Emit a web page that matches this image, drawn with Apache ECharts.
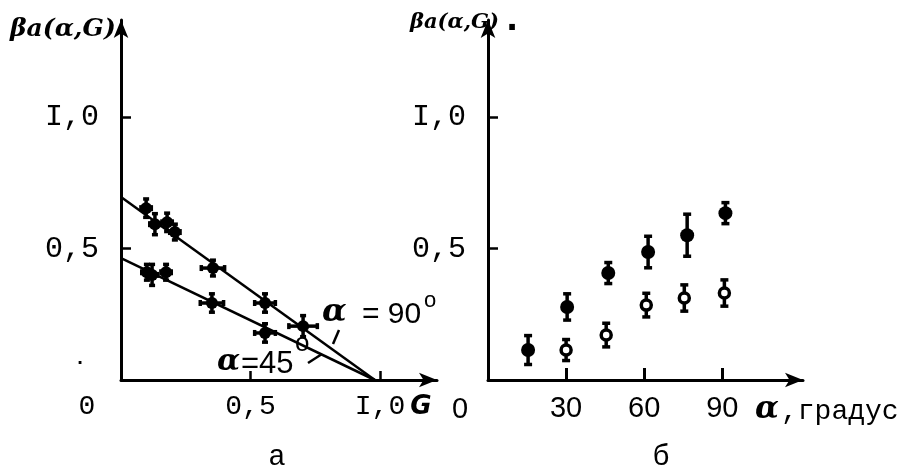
<!DOCTYPE html>
<html>
<head>
<meta charset="utf-8">
<script src="https://cdn.jsdelivr.net/npm/echarts@6/dist/echarts.min.js"></script>
<style>html,body{margin:0;padding:0;background:#fff}#c{width:912px;height:476px}</style>
</head>
<body>
<div id="c"></div>
<script>
// ---- Panel a: beta vs G ----
const G90 = [0.097, 0.131, 0.178, 0.208, 0.355, 0.556, 0.703];
const B90 = [0.654, 0.593, 0.600, 0.563, 0.426, 0.293, 0.205];
const eB90 = [0.035, 0.040, 0.035, 0.030, 0.030, 0.035, 0.040];
const eG90 = [0.020, 0.020, 0.020, 0.020, 0.045, 0.040, 0.055];
const G45 = [0.100, 0.120, 0.174, 0.351, 0.556];
const B45 = [0.410, 0.400, 0.410, 0.293, 0.179];
const eB45 = [0.030, 0.040, 0.030, 0.035, 0.035];
const eG45 = [0.020, 0.020, 0.020, 0.045, 0.040];
const fit90 = [[0, 0.696], [0.98, 0]];
const fit45 = [[0, 0.464], [0.98, 0]];
const yTicks = [0.5, 1.0];
const yTickLabels = ['0,5', 'I,0'];
const xTicksA = [0.5, 1.0];
const xTickLabelsA = ['0,5', 'I,0'];
// ---- Panel b: beta vs alpha ----
const alphaFilled = [15.4, 30.4, 46.2, 61.5, 76.5, 91.2];
const betaFilled = [0.114, 0.278, 0.407, 0.487, 0.551, 0.635];
const errFilled = [0.055, 0.050, 0.040, 0.060, 0.080, 0.040];
const alphaOpen = [30.0, 45.4, 60.8, 75.4, 90.8];
const betaOpen = [0.114, 0.171, 0.285, 0.312, 0.331];
const errOpen = [0.040, 0.045, 0.045, 0.050, 0.050];
const xTicksB = [30, 60, 90];

const chart = echarts.init(document.getElementById('c'));
const ink = '#000';
const mono = '"Liberation Mono", "DejaVu Sans Mono", monospace';
const sans = '"Liberation Sans", "DejaVu Sans", sans-serif';

function axisLineStyle() {
  return { show: true, symbol: ['none', 'arrow'], symbolSize: [11, 18], lineStyle: { color: ink, width: 3 } };
}

function crossItem(params, api) {
  const x = api.value(0), y = api.value(1), ey = api.value(2), ex = api.value(3);
  const c = api.coord([x, y]);
  const t = api.coord([x, y + ey]), b = api.coord([x, y - ey]);
  const l = api.coord([x - ex, y]), r = api.coord([x + ex, y]);
  const st = { stroke: ink, lineWidth: 3.5 };
  return { type: 'group', children: [
    { type: 'line', shape: { x1: t[0], y1: t[1], x2: b[0], y2: b[1] }, style: st },
    { type: 'line', shape: { x1: l[0], y1: l[1], x2: r[0], y2: r[1] }, style: st },
    { type: 'line', shape: { x1: t[0] - 3, y1: t[1], x2: t[0] + 3, y2: t[1] }, style: st },
    { type: 'line', shape: { x1: b[0] - 3, y1: b[1], x2: b[0] + 3, y2: b[1] }, style: st },
    { type: 'line', shape: { x1: l[0], y1: l[1] - 3, x2: l[0], y2: l[1] + 3 }, style: st },
    { type: 'line', shape: { x1: r[0], y1: r[1] - 3, x2: r[0], y2: r[1] + 3 }, style: st },
    { type: 'circle', shape: { cx: c[0], cy: c[1], r: 6 }, style: { fill: ink } }
  ]};
}

function barItem(filled) {
  return function (params, api) {
    const x = api.value(0), y = api.value(1), e = api.value(2);
    const c = api.coord([x, y]);
    const t = api.coord([x, y + e]), b = api.coord([x, y - e]);
    const st = { stroke: ink, lineWidth: 3.5 };
    return { type: 'group', children: [
      { type: 'line', shape: { x1: t[0], y1: t[1], x2: b[0], y2: b[1] }, style: st },
      { type: 'line', shape: { x1: t[0] - 4, y1: t[1], x2: t[0] + 4, y2: t[1] }, style: st },
      { type: 'line', shape: { x1: b[0] - 4, y1: b[1], x2: b[0] + 4, y2: b[1] }, style: st },
      { type: 'circle', shape: { cx: c[0], cy: c[1], r: filled ? 7 : 5 },
        style: filled ? { fill: ink } : { fill: '#fff', stroke: ink, lineWidth: 3.5 } }
    ]};
  };
}

const yAxisCommon = (gi) => ({
  type: 'value', gridIndex: gi, min: 0, max: 1.37,
  axisLine: axisLineStyle(),
  axisTick: { show: true, inside: true, length: 10, customValues: yTicks, lineStyle: { color: ink, width: 2.5 } },
  axisLabel: { customValues: yTicks, formatter: v => yTickLabels[yTicks.indexOf(v)],
    fontFamily: mono, fontSize: 30, color: ink, margin: 22 },
  splitLine: { show: false }
});

chart.setOption({
  backgroundColor: '#fff',
  animation: false,
  grid: [
    { left: 121, top: 20, width: 316, height: 360 },
    { left: 488, top: 20, width: 315, height: 360 }
  ],
  xAxis: [
    { type: 'value', gridIndex: 0, min: 0, max: 1.22,
      axisLine: axisLineStyle(),
      axisTick: { show: true, inside: true, length: 9, customValues: xTicksA, lineStyle: { color: ink, width: 2.5 } },
      axisLabel: { customValues: xTicksA, formatter: v => xTickLabelsA[xTicksA.indexOf(v)],
        fontFamily: mono, fontSize: 28, color: ink, margin: 13 },
      splitLine: { show: false } },
    { type: 'value', gridIndex: 1, min: 0, max: 121,
      axisLine: axisLineStyle(),
      axisTick: { show: true, inside: true, length: 12, customValues: xTicksB, lineStyle: { color: ink, width: 3 } },
      axisLabel: { customValues: xTicksB, fontFamily: sans, fontSize: 29, color: ink, margin: 14 },
      splitLine: { show: false } }
  ],
  yAxis: [yAxisCommon(0), yAxisCommon(1)],
  series: [
    { type: 'line', xAxisIndex: 0, yAxisIndex: 0, data: fit90, symbol: 'none', lineStyle: { color: ink, width: 2.5 } },
    { type: 'line', xAxisIndex: 0, yAxisIndex: 0, data: fit45, symbol: 'none', lineStyle: { color: ink, width: 2.5 } },
    { type: 'custom', xAxisIndex: 0, yAxisIndex: 0, renderItem: crossItem,
      data: G90.map((g, i) => [g, B90[i], eB90[i], eG90[i]]) },
    { type: 'custom', xAxisIndex: 0, yAxisIndex: 0, renderItem: crossItem,
      data: G45.map((g, i) => [g, B45[i], eB45[i], eG45[i]]) },
    { type: 'custom', xAxisIndex: 1, yAxisIndex: 1, renderItem: barItem(true),
      data: alphaFilled.map((a, i) => [a, betaFilled[i], errFilled[i]]) },
    { type: 'custom', xAxisIndex: 1, yAxisIndex: 1, renderItem: barItem(false),
      data: alphaOpen.map((a, i) => [a, betaOpen[i], errOpen[i]]) }
  ],
  graphic: [
    { type: 'text', x: 10, y: 17, style: { text: 'βa(α,G)', font: 'italic bold 25px "DejaVu Serif"', fill: ink } },
    { type: 'text', x: 410, y: 12, style: { text: 'βa(α,G)', font: 'italic bold 21px "DejaVu Serif"', fill: ink } },
    { type: 'text', x: 506, y: 6, style: { text: '.', font: 'bold 32px "DejaVu Sans"', fill: ink } },
    { type: 'text', x: 87, y: 407, style: { text: '0', font: '28px ' + mono, fill: ink, align: 'center', verticalAlign: 'middle' } },
    { type: 'text', x: 421, y: 407, style: { text: 'G', font: 'bold italic 26px "DejaVu Sans"', fill: ink, align: 'center', verticalAlign: 'middle' } },
    { type: 'text', x: 460, y: 410, style: { text: '0', font: '29px ' + sans, fill: ink, align: 'center', verticalAlign: 'middle' } },
    { type: 'text', x: 755, y: 410, style: { text: 'α', font: 'bold italic 31px "DejaVu Serif"', fill: ink, verticalAlign: 'middle' } },
    { type: 'text', x: 781, y: 412, style: { text: ',градус', font: '28px ' + mono, fill: ink, verticalAlign: 'middle' } },
    { type: 'text', x: 277, y: 457, style: { text: 'а', font: '29px ' + mono, fill: ink, align: 'center', verticalAlign: 'middle' } },
    { type: 'text', x: 661, y: 457, style: { text: 'б', font: '29px ' + sans, fill: ink, align: 'center', verticalAlign: 'middle' } },
    { type: 'text', x: 322, y: 313, style: { text: 'α', font: 'bold italic 32px "DejaVu Serif"', fill: ink, verticalAlign: 'middle' } },
    { type: 'text', x: 362, y: 315, style: { text: '= 90', font: '30px ' + sans, fill: ink, verticalAlign: 'middle' } },
    { type: 'text', x: 424, y: 301, style: { text: 'o', font: '22px ' + sans, fill: ink, verticalAlign: 'middle' } },
    { type: 'text', x: 217, y: 362, style: { text: 'α', font: 'bold italic 30px "DejaVu Serif"', fill: ink, verticalAlign: 'middle' } },
    { type: 'text', x: 241, y: 364, style: { text: '=45', font: '31px ' + sans, fill: ink, verticalAlign: 'middle' } },
    { type: 'text', x: 295, y: 344, style: { text: 'o', font: '26px ' + sans, fill: ink, verticalAlign: 'middle' } },
    { type: 'polyline', shape: { points: [[339, 330], [336, 337], [333, 344]] }, style: { stroke: ink, lineWidth: 2.5, fill: 'none' } },
    { type: 'polyline', shape: { points: [[308, 363], [322, 354]] }, style: { stroke: ink, lineWidth: 2.5, fill: 'none' } },
    { type: 'text', x: 77, y: 352, style: { text: '.', font: 'bold 16px "DejaVu Sans"', fill: ink } }
  ]
});
</script>
</body>
</html>
